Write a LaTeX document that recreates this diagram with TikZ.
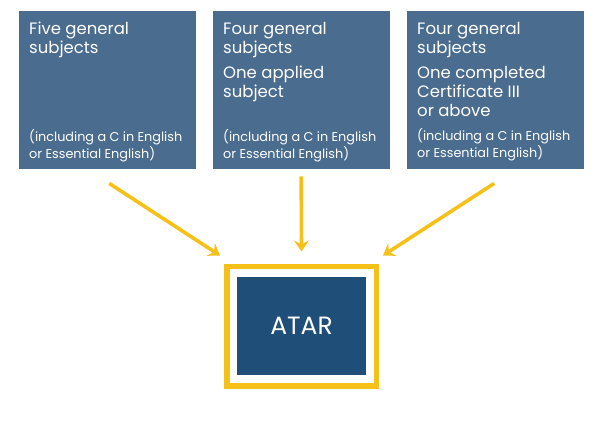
\documentclass[tikz,border=0pt]{standalone}
\usepackage{fontspec}
\setmainfont{Poppins}
\usetikzlibrary{arrows.meta,positioning}
\definecolor{slate}{HTML}{4A6C8F}
\definecolor{navy}{HTML}{1F4E79}
\definecolor{gold}{HTML}{F5C018}
\tikzset{
  subj/.style={fill=slate,minimum width=177pt,minimum height=158pt,inner sep=0pt,anchor=north west},
  big/.style={anchor=base west,align=left,text=white,inner sep=0pt,font=\fontsize{16.5}{19}\selectfont},
  small/.style={anchor=base west,align=left,text=white,inner sep=0pt,font=\fontsize{12.8}{17}\selectfont},
  arr/.style={-{Stealth[length=11pt,width=15pt,inset=4pt]},draw=gold,line width=3.6pt},
}
\begin{document}
\begin{tikzpicture}[x=1pt,y=-1pt]
\useasboundingbox (0,0) rectangle (602,429);
% the three routes (text nodes sit on the baseline of their last line)
\node[subj] (five) at (19,11) {};
\node[subj] (four) at (213,11) {};
\node[subj] (cert) at (407,11) {};
\node[big] (fivea) at (29,53) {Five general\\subjects};
\node[small] (fiveb) at (29,158) {(including a C in English\\or Essential English)};
\node[big] (foura) at (223,53) {Four general\\subjects};
\node[big] (fourb) at (223,97) {One applied\\subject};
\node[small] (fourc) at (223,158) {(including a C in English\\or Essential English)};
\node[big] (certa) at (417,53) {Four general\\subjects};
\node[big] (certb) at (417,116) {One completed\\Certificate III\\or above};
\node[small] (certc) at (417,157) {(including a C in English\\or Essential English)};
% ATAR
\node[draw=gold,line width=5.5pt,minimum width=149.5pt,minimum height=119.5pt,inner sep=0pt] (frame) at (301.5,326) {};
\node[fill=navy,minimum width=129pt,minimum height=98pt,inner sep=0pt,text=white,font=\fontsize{25}{28}\selectfont] (atar) at (301.5,326) {ATAR};
% arrows
\draw[arr] ([xshift=1.5pt,yshift=-14pt]five.south) -- ([xshift=-4pt,yshift=8pt]frame.north west);
\draw[arr] ([xshift=-0.5pt,yshift=-7pt]four.south) -- ([yshift=12pt]frame.north);
\draw[arr] ([xshift=-1.5pt,yshift=-14pt]cert.south) -- ([xshift=4pt,yshift=8pt]frame.north east);
\end{tikzpicture}
\end{document}
